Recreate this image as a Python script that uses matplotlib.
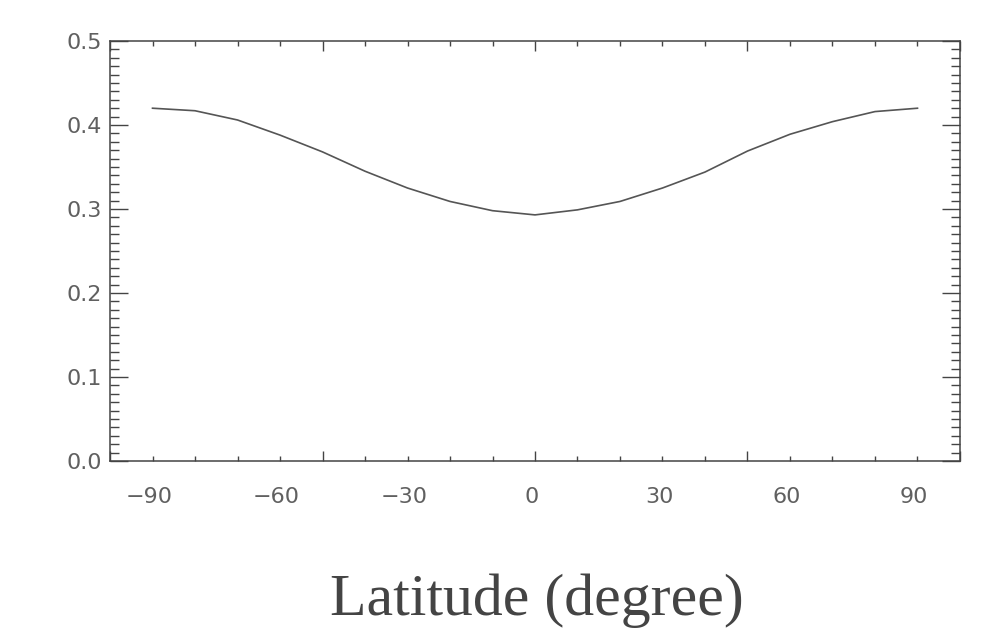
import numpy as np
import matplotlib
matplotlib.use("Agg")
import matplotlib.pyplot as plt
from matplotlib.ticker import MultipleLocator

# data
lat = [-90, -80, -70, -60, -50, -40, -30, -20, -10, 0,
       10, 20, 30, 40, 50, 60, 70, 80, 90]
vals = [0.420, 0.417, 0.406, 0.388, 0.368, 0.345, 0.325, 0.309, 0.298, 0.293,
        0.299, 0.309, 0.325, 0.344, 0.369, 0.389, 0.404, 0.416, 0.420]
xlabels = [-90, -60, -30, 0, 30, 60, 90]
yticks = [0.0, 0.1, 0.2, 0.3, 0.4, 0.5]

fig = plt.figure(figsize=(9.84, 6.4), dpi=100)
ax = fig.add_axes([0.1118, 0.2797, 0.8638, 0.6562])

ax.plot(lat, vals, color="#555555", lw=1.2)

ax.set_xlim(-100, 100)
ax.set_ylim(0, 0.5)

ax.xaxis.set_major_locator(MultipleLocator(50))
ax.xaxis.set_minor_locator(MultipleLocator(10))
ax.set_yticks(yticks)
ax.set_yticklabels(["%.1f" % v for v in yticks])
ax.yaxis.set_minor_locator(MultipleLocator(0.01))
ax.set_xticklabels([])

ax.tick_params(axis="x", which="major", direction="in", length=7.2, width=1,
               top=True, bottom=True, colors="#444444")
ax.tick_params(axis="x", which="minor", direction="in", length=3.6, width=1,
               top=True, bottom=True, colors="#444444")
ax.tick_params(axis="y", which="major", direction="in", length=13, width=1,
               left=True, right=True, colors="#444444", labelsize=16, pad=6,
               labelcolor="#606060")
ax.tick_params(axis="y", which="minor", direction="in", length=6.5, width=1,
               left=True, right=True, colors="#444444")

for s in ax.spines.values():
    s.set_color("#444444")
    s.set_linewidth(1.1)

# latitude labels drawn under the axis
for v in xlabels:
    lab = str(v).replace("-", "\u2212")
    ax.text(v - 0.8, -0.085, lab, transform=ax.get_xaxis_transform(),
            ha="center", va="center", fontsize=16, color="#606060")

fig.text(537 / 984, 1 - 601 / 640, "Latitude (degree)", ha="center",
         va="center", fontsize=43, family="Liberation Serif", color="#444444")

fig.savefig("out.png", dpi=100)
